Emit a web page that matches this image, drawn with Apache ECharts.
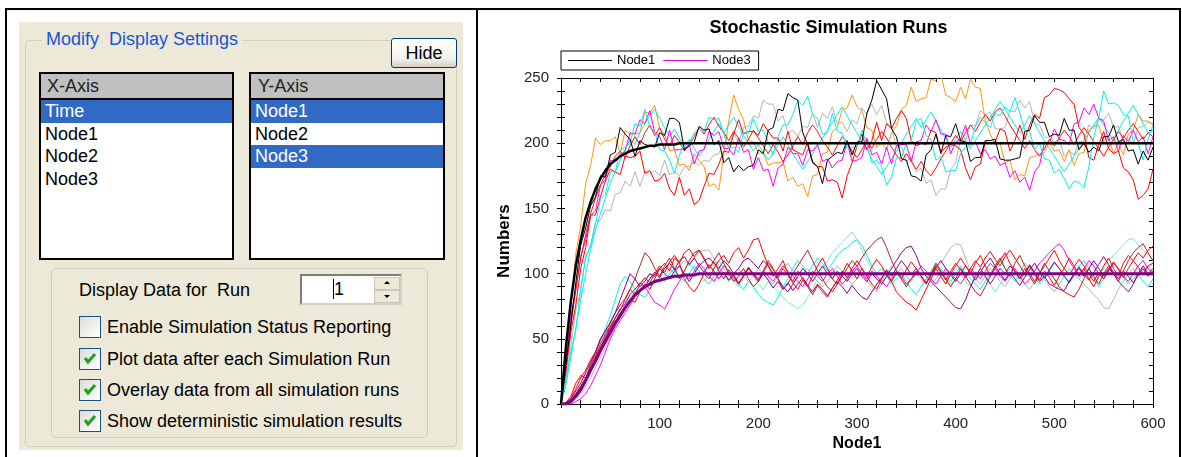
<!DOCTYPE html>
<html><head><meta charset="utf-8">
<script src="https://cdn.jsdelivr.net/npm/echarts@6/dist/echarts.min.js"></script>
<style>
html,body{margin:0;padding:0;background:#fff;}
body{width:1182px;height:457px;position:relative;overflow:hidden;font-family:"Liberation Sans",Arial,sans-serif;}
.abs{position:absolute;box-sizing:border-box;}
.blk{position:absolute;background:#000;}
.txt{position:absolute;font-size:18px;color:#000;white-space:pre;line-height:22px;}
.list{position:absolute;box-sizing:border-box;border:2px solid #000;background:#fff;}
.hdr{height:24px;background:#C0C0C0;border-bottom:2px solid #000;font-size:18px;line-height:24px;color:#222;white-space:pre;}
.row{height:22.5px;font-size:18px;line-height:22.5px;padding-left:4px;white-space:pre;color:#000;}
.sel{background:#316AC5;color:#fff;}
.cb{position:absolute;width:22px;height:22px;box-sizing:border-box;border:1px solid #1C5180;background:linear-gradient(135deg,#DCDCD7,#fff);}
#chart{position:absolute;left:478px;top:10px;width:701px;height:447px;background:#fff;}
</style></head>
<body>
<div class="blk" style="left:5px;top:8px;width:1176px;height:2px"></div>
<div class="blk" style="left:5px;top:8px;width:2px;height:449px"></div>
<div class="blk" style="left:476px;top:8px;width:2px;height:449px"></div>
<div class="blk" style="left:1179px;top:8px;width:2px;height:449px"></div>

<div class="abs" style="left:19px;top:22px;width:444px;height:428px;background:#ECE9D8"></div>
<div class="abs" style="left:25px;top:40px;width:432px;height:407px;border:1px solid #D0D0BF;border-radius:5px"></div>
<div class="txt" style="left:42px;top:28px;color:#1955D8;background:#ECE9D8;padding:0 4px">Modify  Display Settings</div>
<div class="abs" style="left:391px;top:38px;width:66px;height:30px;border:1px solid #003C74;border-radius:3px;background:linear-gradient(#FFFFFF,#F2F1EC 70%,#D6D0C5);font-size:18px;line-height:28px;text-align:center;color:#000">Hide</div>

<div class="list" style="left:39px;top:72px;width:195px;height:188px">
  <div class="hdr" style="padding-left:6px">X-Axis</div>
  <div class="row sel">Time</div>
  <div class="row">Node1</div>
  <div class="row">Node2</div>
  <div class="row">Node3</div>
</div>
<div class="list" style="left:249px;top:72px;width:196px;height:188px">
  <div class="hdr" style="padding-left:7px">Y-Axis</div>
  <div class="row sel">Node1</div>
  <div class="row">Node2</div>
  <div class="row sel">Node3</div>
</div>

<div class="abs" style="left:51px;top:268px;width:377px;height:170px;border:1px solid #D0D0BF;border-radius:5px"></div>
<div class="txt" style="left:79px;top:279px">Display Data for  Run</div>
<div class="abs" style="left:300px;top:274px;width:102px;height:31px;border:2px inset #D4D0C8;background:#fff"></div>
<div class="abs" style="left:333px;top:279px;width:1px;height:20px;background:#000"></div>
<div class="txt" style="left:334px;top:278px">1</div>
<div class="abs" style="left:374px;top:277px;width:26px;height:13px;background:#ECE9D8;border:1px solid #C9C5B8"></div>
<div class="abs" style="left:374px;top:290px;width:26px;height:13px;background:#ECE9D8;border:1px solid #C9C5B8"></div>
<div class="abs" style="left:384px;top:281px;width:0;height:0;border-left:3px solid transparent;border-right:3px solid transparent;border-bottom:3px solid #000"></div>
<div class="abs" style="left:384px;top:295px;width:0;height:0;border-left:3px solid transparent;border-right:3px solid transparent;border-top:3px solid #000"></div>

<div class="cb" style="left:79px;top:316px"></div>
<div class="txt" style="left:107px;top:316px">Enable Simulation Status Reporting</div>
<div class="cb" style="left:79px;top:348px"><svg width="20" height="20" style="position:absolute;left:0;top:0"><path d="M5 9 L8 13 L15 5" stroke="#21A121" stroke-width="3" fill="none"/></svg></div>
<div class="txt" style="left:107px;top:348px">Plot data after each Simulation Run</div>
<div class="cb" style="left:79px;top:379px"><svg width="20" height="20" style="position:absolute;left:0;top:0"><path d="M5 9 L8 13 L15 5" stroke="#21A121" stroke-width="3" fill="none"/></svg></div>
<div class="txt" style="left:107px;top:379px">Overlay data from all simulation runs</div>
<div class="cb" style="left:79px;top:410px"><svg width="20" height="20" style="position:absolute;left:0;top:0"><path d="M5 9 L8 13 L15 5" stroke="#21A121" stroke-width="3" fill="none"/></svg></div>
<div class="txt" style="left:107px;top:410px">Show deterministic simulation results</div>

<div id="chart"></div>
<script>
// ---------------- data ----------------
const time = [0,5,10,15,20,25,30,35,40,45,50,55,60,65,70,75,80,85,90,95,
100,105,110,115,120,125,130,135,140,145,150,155,160,165,170,175,180,185,190,195,
200,205,210,215,220,225,230,235,240,245,250,255,260,265,270,275,280,285,290,295,
300,305,310,315,320,325,330,335,340,345,350,355,360,365,370,375,380,385,390,395,
400,405,410,415,420,425,430,435,440,445,450,455,460,465,470,475,480,485,490,495,
500,505,510,515,520,525,530,535,540,545,550,555,560,565,570,575,580,585,590,595,600];

// Node1 stochastic runs
const n1Black = [0,30,62,93,122,135,152,159,175,174,191,193,212,207,203,190,202,199,198,197,
208,206,219,219,216,195,198,201,213,210,211,199,202,185,189,178,183,179,182,183,
195,192,210,212,226,225,238,235,233,208,199,185,182,169,187,190,193,192,202,191,
201,201,223,233,248,241,234,211,205,188,187,175,174,171,191,195,207,192,206,205,
215,202,201,186,189,189,202,202,203,188,187,187,188,189,209,210,221,216,216,205,
207,206,219,210,210,195,200,193,197,194,205,205,214,201,203,194,195,184,194,187,197];
const n1Orange = [0,38,75,115,137,169,183,204,199,202,202,205,192,210,207,207,208,224,223,229,
211,207,194,195,183,184,179,192,187,182,167,169,164,192,217,237,226,218,202,201,
192,193,183,185,185,186,171,174,167,169,159,175,176,192,193,209,212,226,227,237,
228,225,212,210,197,200,195,208,213,226,229,243,232,234,235,249,248,252,237,235,
232,243,234,249,243,242,217,207,199,200,185,187,172,176,175,189,190,192,193,201,
194,195,186,195,183,192,193,210,213,214,201,205,192,200,191,207,210,222,217,217,214];
const n1Red = [0,25,55,76,104,120,145,145,159,171,180,178,176,190,189,190,194,177,179,171,
172,177,165,160,174,160,165,153,156,167,177,176,184,194,193,207,218,207,209,209,
206,215,209,204,204,194,209,195,193,191,201,186,182,182,171,172,170,158,175,185,
198,207,195,202,216,202,215,211,219,225,219,202,198,200,199,210,208,193,197,199,
198,195,181,172,182,184,201,200,201,211,209,194,202,214,203,214,222,219,235,237,
242,241,239,234,230,212,207,189,187,199,209,196,192,194,181,178,172,157,160,165,180];
const n1Red2 = [0,28,60,88,112,130,146,158,168,176,182,190,194,189,198,205,199,208,214,206,
212,203,198,206,201,194,199,205,212,207,214,220,213,208,202,209,204,197,203,210,
204,198,192,199,193,186,191,198,205,199,208,214,209,202,197,191,198,205,201,194,
189,195,202,196,203,209,204,197,191,186,192,186,180,186,179,175,181,188,194,200,
206,201,208,214,209,216,222,217,224,227,221,214,208,202,196,202,195,190,196,203,
198,204,210,205,199,206,212,207,201,196,190,197,203,209,204,210,215,209,203,208,205];
const n1Cyan = [0,18,40,57,88,112,121,138,157,161,178,178,195,197,200,215,213,226,212,209,
195,194,187,177,191,200,200,208,211,209,220,218,219,207,196,197,193,208,208,219,
209,210,201,191,205,214,214,222,233,229,236,222,219,207,208,223,209,208,196,197,
197,210,199,185,187,182,168,174,189,189,200,202,217,219,206,203,187,190,178,179,
179,192,197,199,213,220,216,212,223,221,228,224,235,223,210,209,195,200,188,187,
177,180,173,165,171,170,166,182,205,219,240,230,231,229,222,221,201,200,187,203,214];
const n1Cyan2 = [0,15,36,58,80,100,118,134,146,158,170,178,187,195,203,199,208,215,221,226,
219,212,205,211,204,197,203,196,190,196,203,209,215,208,214,220,213,206,200,194,
199,193,187,193,199,205,199,192,186,180,186,192,198,204,210,216,222,228,221,214,
208,201,195,188,182,176,182,188,194,200,207,213,219,212,218,224,217,210,204,197,
203,209,203,196,202,208,214,220,226,232,226,220,214,208,214,221,215,208,202,196,
190,184,178,184,190,196,202,208,214,220,214,208,202,210,217,223,229,222,215,208,210];
const n1Magenta = [0,35,68,87,113,126,145,148,168,172,187,186,191,194,208,207,218,215,225,208,
205,195,210,195,195,196,199,184,194,195,209,206,209,196,196,191,204,193,195,180,
189,179,180,167,181,184,197,192,192,183,195,194,199,186,188,181,186,187,201,186,
187,189,204,191,193,184,197,184,198,199,199,186,201,202,214,209,218,207,207,192,
201,203,214,199,201,192,195,188,190,183,185,174,179,170,174,164,178,183,201,200,
211,203,202,199,215,216,227,222,230,219,217,202,205,194,206,201,210,201,205,192,205];
const n1Gray = [0,20,45,72,87,113,122,140,141,149,148,161,162,171,167,178,167,178,177,179,
175,187,176,178,175,182,182,186,183,187,186,191,192,201,197,208,201,212,213,221,
219,233,230,230,217,221,208,210,205,213,212,223,212,223,219,228,215,216,209,218,
215,227,222,230,222,229,216,212,197,197,186,189,178,181,169,172,160,165,165,180,
185,203,202,214,213,225,222,224,211,211,212,225,224,233,227,232,215,214,205,204,
201,203,190,194,191,201,202,214,211,219,218,223,212,213,201,204,199,212,213,216,215];

// Node3 stochastic runs
const n3Red = [0,1,6,16,22,20,28,36,44,50,58,64,66,74,80,78,86,92,88,96,
104,108,102,112,108,96,90,86,92,100,96,104,110,114,108,116,120,112,118,126,
127,116,106,98,104,110,100,94,102,96,90,98,106,112,104,96,92,100,108,102,
96,104,98,92,88,96,102,94,86,82,78,76,72,80,88,96,104,98,92,100,
106,112,106,100,108,114,106,98,104,110,116,108,102,96,104,98,92,100,106,112,
118,110,104,112,106,98,104,96,90,98,106,112,104,98,108,114,110,116,112,118,121];
const n3Red2 = [0,0,4,12,20,26,34,40,50,56,63,70,76,81,88,84,92,97,93,100,
106,101,109,114,108,116,119,113,118,111,104,109,102,96,103,98,92,99,105,100,
95,101,108,103,97,104,99,93,88,95,90,84,91,86,82,89,95,102,97,104,
110,104,98,105,111,106,99,94,101,96,103,109,104,98,93,99,106,101,95,102,
108,103,97,104,110,105,112,117,111,106,113,118,112,106,100,107,101,95,102,97,
91,98,104,99,105,111,106,100,94,101,96,103,109,103,97,104,110,105,99,106,108];
const n3Brown = [0,0,3,8,14,20,30,38,46,54,60,66,72,80,88,96,106,116,112,104,
98,106,112,104,96,102,110,116,118,112,104,110,116,108,100,94,98,104,96,90,
94,102,110,104,96,88,92,100,106,112,118,110,102,96,90,86,92,98,104,110,
106,112,118,122,126,128,120,110,102,96,90,96,102,98,92,100,108,102,96,90,
96,104,98,92,86,83,90,98,106,112,104,98,108,114,106,100,94,100,108,102,
96,90,86,84,82,88,96,104,98,92,100,106,100,94,102,110,116,120,123,116,110];
const n3Purple = [0,1,4,10,16,24,32,40,50,56,62,70,80,90,100,96,90,94,100,98,
104,100,96,102,106,100,94,100,106,110,112,108,104,110,106,100,104,110,112,108,
104,110,106,100,96,90,86,92,98,104,100,94,100,106,100,96,102,98,94,100,
104,98,94,100,96,92,98,104,110,116,120,121,114,104,98,94,90,86,82,78,
74,73,80,90,98,104,98,92,98,104,100,106,102,96,100,106,100,94,98,92,
90,88,87,94,100,104,98,104,110,104,98,104,100,94,90,86,92,100,106,100,104];
const n3Purple2 = [0,0,2,7,13,19,27,36,43,52,59,66,73,77,84,88,93,90,96,101,
97,104,108,103,110,113,107,112,106,101,107,102,96,101,95,99,93,98,104,99,
94,100,95,89,94,88,93,87,92,97,91,86,92,88,83,89,94,90,85,91,
86,82,80,86,92,97,103,98,104,110,105,99,104,98,93,99,105,110,104,99,
94,100,106,101,95,101,107,112,106,100,95,101,96,91,97,103,108,102,97,103,
109,104,98,93,99,105,100,95,101,107,113,107,101,96,102,98,93,99,104,98,102];
const n3Cyan = [0,0,2,6,12,20,30,40,48,58,68,80,92,98,94,88,84,82,88,94,
98,94,100,104,98,94,100,106,102,96,92,98,104,100,94,98,92,88,94,90,
84,80,78,76,82,90,96,104,110,106,100,106,112,108,102,108,114,118,120,124,
126,122,114,106,100,104,98,92,96,100,94,88,84,90,96,102,108,104,98,94,
100,106,100,96,92,88,94,100,106,110,104,98,94,100,108,104,98,92,96,102,
108,104,98,94,100,106,110,104,96,90,96,102,108,104,98,92,96,100,94,90,96];
const n3Aqua = [0,0,2,5,10,17,24,34,42,50,58,66,70,76,82,86,90,96,100,96,
92,98,104,100,96,102,108,104,98,94,100,106,110,104,98,94,90,96,102,98,
92,88,94,90,86,82,78,76,73,76,82,88,96,104,110,116,120,124,128,132,
126,118,110,104,98,94,100,106,102,96,90,96,102,98,94,90,96,102,98,92,
96,100,94,90,96,102,98,92,86,92,98,104,100,94,98,104,108,102,96,100,
96,92,98,104,100,96,102,108,104,98,104,110,114,118,122,126,127,122,118,114,110];
const n3Gray = [0,0,1,4,8,14,20,28,36,44,52,60,66,72,78,84,88,92,96,100,
104,108,104,100,106,110,106,112,116,118,118,112,106,100,96,100,104,98,94,98,
104,100,96,92,98,104,108,102,96,100,104,98,94,90,94,100,106,102,96,92,
96,100,94,90,86,92,98,94,100,104,98,94,100,96,92,98,104,108,114,120,
123,122,112,102,96,92,98,104,100,94,90,96,102,98,92,88,94,100,96,90,
86,92,98,104,100,96,92,88,84,80,74,73,80,88,94,100,104,98,102,106,100];
const n3Magenta = [0,0,0,2,4,8,14,22,30,40,50,58,64,70,76,82,86,90,84,78,
76,73,80,88,94,100,96,102,108,104,98,94,100,106,102,96,92,98,104,100,
96,102,98,94,100,106,102,98,94,90,96,102,98,94,100,104,98,92,96,102,
106,100,96,102,98,94,90,96,102,98,92,96,100,106,102,96,92,98,104,100,
96,92,98,104,100,96,102,108,104,98,94,100,104,98,92,96,102,108,112,116,
120,123,118,110,104,98,104,110,106,100,96,102,108,104,98,94,100,106,110,104,100];

// deterministic results
const detTime  = [0,5,10,15,20,25,30,35,40,45,50,55,60,65,70,75,80,85,90,95,100,105,110,115,120,125,130,135,140,600];
const detNode1 = [0,44,79,106,126,143,155,165,173,179,184,187,190,192,194,195,196,197,198,198,199,199,199,199,200,200,200,200,200,200];
const detNode3 = [0,0,2,6,11,18,26,33,41,48,55,62,68,74,79,84,87,90,92,94,95,96,97,98,98,99,99,99,100,100];

const xTicks = [0,100,200,300,400,500,600];
const yTicks = [0,50,100,150,200,250];

// ---------------- chart ----------------
const FONT = '"Liberation Sans", Arial, sans-serif';
const pairs = (arr) => time.map((t, i) => [t, arr[i]]);
const detPairs = (arr) => detTime.map((t, i) => [t, arr[i]]);
function run(name, arr, color) {
  return {type:'line', name, data:pairs(arr), symbol:'none', showSymbol:false,
    lineStyle:{width:1, color}, itemStyle:{color}, silent:true, animation:false};
}
const series = [
  run('r1g', n1Gray, '#B4B4B4'),
  run('r1o', n1Orange, '#FF9410'),
  run('r1c2', n1Cyan2, '#00F0F0'),
  run('r1m', n1Magenta, '#FF00FF'),
  run('r1r2', n1Red2, '#FF1010'),
  run('r1r', n1Red, '#FF0000'),
  run('r1c', n1Cyan, '#00F0F0'),
  run('r1k', n1Black, '#000000'),
  run('r3g', n3Gray, '#B4B4B4'),
  run('r3a', n3Aqua, '#7FE8CC'),
  run('r3c', n3Cyan, '#00F0F0'),
  run('r3m', n3Magenta, '#FF00FF'),
  run('r3p2', n3Purple2, '#8B008B'),
  run('r3b', n3Brown, '#B22222'),
  run('r3r2', n3Red2, '#FF0000'),
  run('r3p', n3Purple, '#8B008B'),
  run('r3r', n3Red, '#FF0000'),
  {type:'line', name:'Node1', data:detPairs(detNode1), symbol:'none', showSymbol:false,
   lineStyle:{width:2.5, color:'#000'}, itemStyle:{color:'#000'}, silent:true, animation:false},
  {type:'line', name:'Node3', data:detPairs(detNode3), symbol:'none', showSymbol:false,
   lineStyle:{width:3, color:'#800080'}, itemStyle:{color:'#800080'}, silent:true, animation:false}
];

const tickStyle = {color:'#000', width:1};
const xMin = xTicks[0], xMax = xTicks[xTicks.length-1], xInt = xTicks[1]-xTicks[0];
const yMin = yTicks[0], yMax = yTicks[yTicks.length-1], yInt = yTicks[1]-yTicks[0];
const xBase = {type:'value', min:xMin, max:xMax, interval:xInt, splitLine:{show:false}};
const yBase = {type:'value', min:yMin, max:yMax, interval:yInt, splitLine:{show:false}};

const chart = echarts.init(document.getElementById('chart'), null, {renderer:'canvas'});
chart.setOption({
  animation:false,
  backgroundColor:'#fff',
  title:{text:'Stochastic Simulation Runs', left:'center', top:9, padding:0,
    textStyle:{fontSize:18, fontWeight:'bold', color:'#000', fontFamily:FONT}},
  legend:{
    data:[{name:'Node1', icon:'rect', itemStyle:{color:'#000'}},
          {name:'Node3', icon:'rect', itemStyle:{color:'#CC00CC'}}],
    left:83, top:41, orient:'horizontal', padding:[2,8,2,7], itemWidth:44, itemHeight:1, itemGap:8,
    borderColor:'#000', borderWidth:1, borderRadius:0, selectedMode:false,
    textStyle:{fontSize:13, color:'#000', fontFamily:FONT, lineHeight:15}
  },
  grid:{left:83, right:26, top:68, bottom:51, containLabel:false},
  xAxis:[
    Object.assign({}, xBase, {position:'bottom',
      axisLine:{show:true, onZero:false, lineStyle:{color:'#000', width:1}},
      axisTick:{show:true, inside:false, length:4, lineStyle:tickStyle},
      minorTick:{show:true, splitNumber:5, length:4, lineStyle:tickStyle},
      axisLabel:{margin:12, color:'#222', fontSize:15, fontFamily:FONT, formatter:(v)=> v===0 ? '' : String(v)},
      name:'Node1', nameLocation:'middle', nameGap:31,
      nameTextStyle:{fontWeight:'bold', fontSize:16, color:'#000', fontFamily:FONT}}),
    Object.assign({}, xBase, {position:'bottom',
      axisLine:{show:false, onZero:false},
      axisTick:{show:true, inside:true, length:4, lineStyle:tickStyle},
      minorTick:{show:true, splitNumber:5, length:4, lineStyle:tickStyle},
      axisLabel:{show:false}}),
    Object.assign({}, xBase, {position:'top',
      axisLine:{show:true, onZero:false, lineStyle:{color:'#000', width:1}},
      axisTick:{show:true, inside:true, length:4, lineStyle:tickStyle},
      minorTick:{show:true, splitNumber:5, length:4, lineStyle:tickStyle},
      axisLabel:{show:false}})
  ],
  yAxis:[
    Object.assign({}, yBase, {position:'left',
      axisLine:{show:true, onZero:false, lineStyle:{color:'#000', width:1}},
      axisTick:{show:true, inside:false, length:4, lineStyle:tickStyle},
      minorTick:{show:true, splitNumber:5, length:4, lineStyle:tickStyle},
      axisLabel:{margin:12, color:'#222', fontSize:15, fontFamily:FONT},
      name:'Numbers', nameLocation:'middle', nameGap:45,
      nameTextStyle:{fontWeight:'bold', fontSize:17, color:'#000', fontFamily:FONT}}),
    Object.assign({}, yBase, {position:'left',
      axisLine:{show:false, onZero:false},
      axisTick:{show:true, inside:true, length:4, lineStyle:tickStyle},
      minorTick:{show:true, splitNumber:5, length:4, lineStyle:tickStyle},
      axisLabel:{show:false}}),
    Object.assign({}, yBase, {position:'right',
      axisLine:{show:true, onZero:false, lineStyle:{color:'#000', width:1}},
      axisTick:{show:true, inside:true, length:4, lineStyle:tickStyle},
      minorTick:{show:true, splitNumber:5, length:4, lineStyle:tickStyle},
      axisLabel:{show:false}})
  ],
  series: series.map(s => Object.assign(s, {xAxisIndex:0, yAxisIndex:0}))
});
</script>
</body></html>
